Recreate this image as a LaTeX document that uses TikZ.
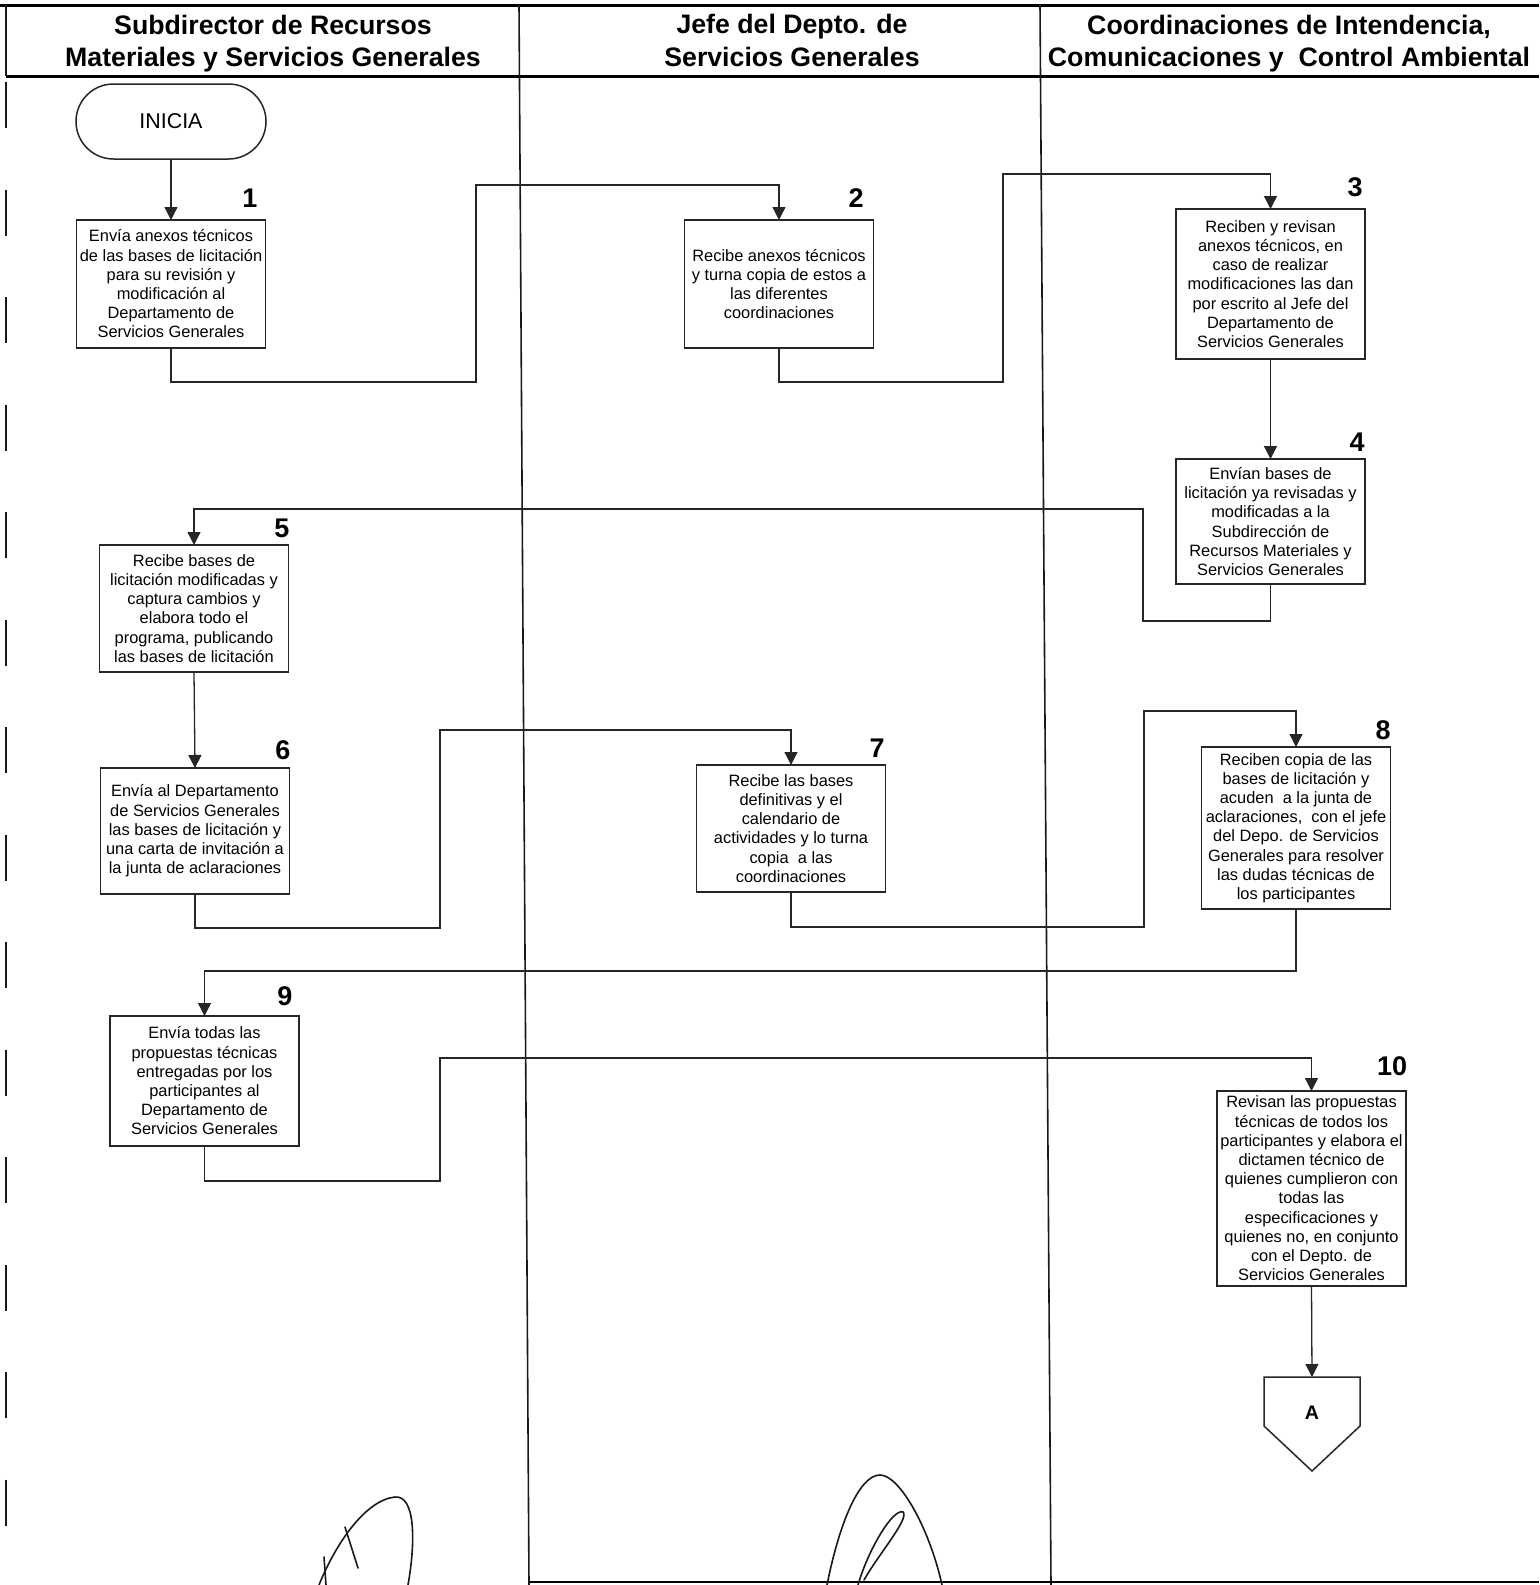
\documentclass[tikz,border=0pt]{standalone}
\usepackage{fontspec}
\setmainfont{Liberation Sans}
\usetikzlibrary{arrows.meta,shapes.misc}

\begin{document}
\begin{tikzpicture}[x=0.5pt,y=-0.5pt,
  every node/.style={inner sep=0pt,outer sep=0pt},
  rule/.style={draw=black,line width=1.5pt},
  lane/.style={draw=black!90,line width=0.8pt},
  head/.style={align=center,font=\fontsize{13.35pt}{16.2pt}\selectfont\bfseries},
  stepbox/.style={draw=black!85,line width=0.75pt,rectangle,minimum width=94.5pt,
    align=center,font=\fontsize{8.2pt}{9.6pt}\selectfont},
  startbox/.style={draw=black!85,line width=0.75pt,rounded rectangle,
    minimum width=95pt,minimum height=37.5pt,font=\fontsize{10.7pt}{12pt}\selectfont},
  num/.style={font=\fontsize{13.5pt}{14pt}\selectfont\bfseries},
  flow/.style={draw=black!85,line width=0.65pt,-{Triangle[length=6.5pt,width=6.5pt]}},
  sign/.style={draw=black!90,line width=0.8pt,line cap=round}
]
\useasboundingbox (0,0) rectangle (1539,1585);

% frame and lanes
\draw[rule] (0,5) -- (1539,5);
\draw[rule] (6,76) -- (1539,76);
\draw[lane] (6,5) -- (6,76);
\draw[lane] (519,5) -- (529,1585);
\draw[lane] (1040,5) -- (1051,1585);
\draw[draw=black,line width=1.1pt] (529,1582) -- (1539,1582);
\foreach \k in {0,...,13}
  \draw[lane] (6,{82+107.5*\k}) -- ++(0,46);

% lane titles
\node[head] (h1) at (273,43.5) {Subdirector de Recursos\\Materiales y Servicios Generales};
\node[head] (h2) at (792,40.5) {Jefe del Depto. de\\Servicios Generales};
\node[head] (h3) at (1289,43.5) {Coordinaciones de Intendencia,\\Comunicaciones y~ Control Ambiental};

% start
\node[startbox] (ini) at (171,121.5) {INICIA};

% steps
\node[stepbox,minimum height=64pt] (b1) at (171,284)
  {Envía anexos técnicos\\de las bases de licitación\\para su revisión y\\modificación al\\Departamento de\\Servicios Generales};
\node[stepbox,minimum height=64pt] (b2) at (779,284)
  {Recibe anexos técnicos\\y turna copia de estos a\\las diferentes\\coordinaciones};
\node[stepbox,minimum height=75pt] (b3) at (1270.5,284)
  {Reciben y revisan\\anexos técnicos, en\\caso de realizar\\modificaciones las dan\\por escrito al Jefe del\\Departamento de\\Servicios Generales};
\node[stepbox,minimum height=62.5pt] (b4) at (1270.5,521.5)
  {Envían bases de\\licitación ya revisadas y\\modificadas a la\\Subdirección de\\Recursos Materiales y\\Servicios Generales};
\node[stepbox,minimum height=63.5pt] (b5) at (194,608.5)
  {Recibe bases de\\licitación modificadas y\\captura cambios y\\elabora todo el\\programa, publicando\\las bases de licitación};
\node[stepbox,minimum height=63pt] (b6) at (195,831)
  {Envía al Departamento\\de Servicios Generales\\las bases de licitación y\\una carta de invitación a\\la junta de aclaraciones};
\node[stepbox,minimum height=63.5pt] (b7) at (791,828.5)
  {Recibe las bases\\definitivas y el\\calendario de\\actividades y lo turna\\copia~ a las\\coordinaciones};
\node[stepbox,minimum height=81pt] (b8) at (1296,828)
  {Reciben copia de las\\bases de licitación y\\acuden~ a la junta de\\aclaraciones,~ con el jefe\\del Depo. de Servicios\\Generales para resolver\\las dudas técnicas de\\los participantes};
\node[stepbox,minimum height=65pt] (b9) at (204.5,1081)
  {Envía todas las\\propuestas técnicas\\entregadas por los\\participantes al\\Departamento de\\Servicios Generales};
\node[stepbox,minimum height=97.5pt] (b10) at (1311.5,1188.5)
  {Revisan las propuestas\\técnicas de todos los\\participantes y elabora el\\dictamen técnico de\\quienes cumplieron con\\todas las\\especificaciones y\\quienes no, en conjunto\\con el Depto. de\\Servicios Generales};

% step numbers
\node[num] (n1) at (250,198) {1};
\node[num] (n2) at (856,198) {2};
\node[num] (n3) at (1355,187) {3};
\node[num] (n4) at (1357,442) {4};
\node[num] (n5) at (282,528) {5};
\node[num] (n6) at (283,750) {6};
\node[num] (n7) at (877,748) {7};
\node[num] (n8) at (1383,730) {8};
\node[num] (n9) at (285,996) {9};
\node[num] (n10) at (1392,1066) {10};

% off-page connector
\coordinate (Atop) at (1312,1377);
\draw[draw=black!85,line width=0.75pt] (1264,1377) -- (1360,1377) -- (1360,1426)
  -- (1312,1471) -- (1264,1426) -- cycle;
\node[font=\fontsize{9.8pt}{10pt}\selectfont\bfseries] (A) at (1312,1413) {A};

% flow
\draw[flow] (ini.south) -- (b1.north);
\draw[flow] (b1.south) |- (476,382) -- (476,185) -| (b2.north);
\draw[flow] (b2.south) |- (1003,382) -- (1003,174) -| (b3.north);
\draw[flow] (b3.south) -- (b4.north);
\draw[flow] (b4.south) |- (1143,621) -- (1143,509) -| (b5.north);
\draw[flow] (b5.south) -- (b6.north);
\draw[flow] (b6.south) |- (440,928) -- (440,730) -| (b7.north);
\draw[flow] (b7.south) |- (1144,927) -- (1144,711) -| (b8.north);
\draw[flow] (b8.south) |- (205,971) -| (b9.north);
\draw[flow] (b9.south) |- (440,1181) -- (440,1058) -| (b10.north);
\draw[flow] (b10.south) -- (Atop);

% signatures
\draw[sign] (319,1585) .. controls (335,1545) and (365,1500) .. (395,1497)
  .. controls (415,1495) and (416,1540) .. (408,1585);
\draw[sign] (345,1527) -- (358,1568);
\draw[sign] (324,1557) -- (326,1585);
\draw[sign] (827,1585) .. controls (840,1520) and (860,1475) .. (880,1475)
  .. controls (900,1475) and (930,1530) .. (942,1585);
\draw[sign] (858,1585) .. controls (868,1550) and (893,1508) .. (903,1512)
  .. controls (910,1518) and (878,1555) .. (864,1580);
\end{tikzpicture}
\end{document}
